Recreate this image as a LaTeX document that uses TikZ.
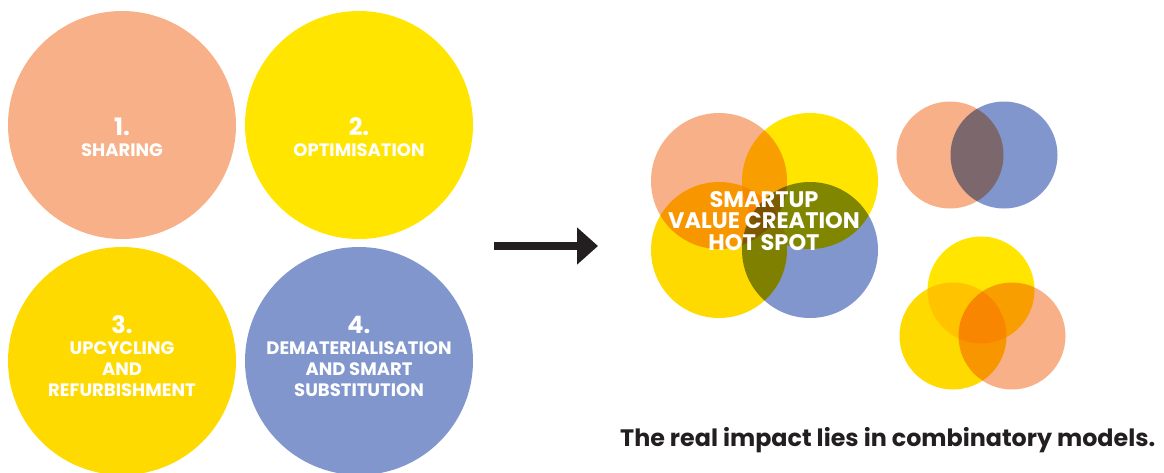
\documentclass[tikz,border=0pt]{standalone}
\usepackage{fontspec}
\setmainfont{Poppins}
\usetikzlibrary{arrows.meta}
\definecolor{peach}{HTML}{F8B088}
\definecolor{lemon}{HTML}{FFE500}
\definecolor{gold}{HTML}{FFDA00}
\definecolor{lavender}{HTML}{8096CC}
\definecolor{ink}{HTML}{231F20}
\begin{document}
\begin{tikzpicture}[x=1pt,y=-1pt,
  bubble/.style={circle,inner sep=0pt,draw=none,minimum size=#1},
  numtxt/.style={text=white,font=\bfseries\fontsize{24}{26}\selectfont},
  lbltxt/.style={text=white,align=center,font=\bfseries\fontsize{18}{21}\selectfont},
  hottxt/.style={text=white,align=center,font=\bfseries\fontsize{22.5}{21.5}\selectfont}]
\useasboundingbox (0,0) rectangle (1164,472);
% left circles
\node[bubble=228pt,fill=peach] (c1) at (122,125) {};
\node[bubble=228pt,fill=lemon] (c2) at (359,125) {};
\node[bubble=228pt,fill=gold] (c3) at (122,361) {};
\node[bubble=228pt,fill=lavender] (c4) at (359,361) {};
\node[numtxt] (n1) at (122,127) {1.};
\node[lbltxt] (l1) at (122,150) {SHARING};
\node[numtxt] (n2) at (359,127) {2.};
\node[lbltxt] (l2) at (359,150) {OPTIMISATION};
\node[numtxt] (n3) at (122,325) {3.};
\node[lbltxt] (l3) at (122,369) {UPCYCLING\\AND\\REFURBISHMENT};
\node[numtxt] (n4) at (359,325) {4.};
\node[lbltxt] (l4) at (359,369) {DEMATERIALISATION\\AND SMART\\SUBSTITUTION};
% arrow
\coordinate (as) at (494,246);
\coordinate (ae) at (598,246);
\draw[ink,line width=8pt,-{Triangle[length=21pt,width=36pt]}] (as) -- (ae);
% four-circle group
\begin{scope}[blend group=multiply]
\node[bubble=136pt,fill=peach] (g1) at (719,181) {};
\node[bubble=136pt,fill=lemon] (g2) at (810,181) {};
\node[bubble=136pt,fill=gold] (g3) at (719,250) {};
\node[bubble=136pt,fill=lavender] (g4) at (810,250) {};
\end{scope}
\node[hottxt] (hot) at (764,221) {SMARTUP\\VALUE CREATION\\HOT SPOT};
% pair
\begin{scope}[blend group=multiply]
\node[bubble=107pt,fill=peach] (p1) at (950,155) {};
\node[bubble=107pt,fill=lavender] (p2) at (1004,155) {};
\end{scope}
% triple
\begin{scope}[blend group=multiply]
\node[bubble=107pt,fill=lemon] (t1) at (981,290) {};
\node[bubble=107pt,fill=gold] (t2) at (953,336) {};
\node[bubble=107pt,fill=peach] (t3) at (1012,336) {};
\end{scope}
% caption
\node[anchor=base west,inner sep=0pt,text=ink,font=\bfseries\fontsize{23.8}{26}\selectfont] (cap) at (620,446) {The real impact lies in combinatory models.};
\end{tikzpicture}
\end{document}
